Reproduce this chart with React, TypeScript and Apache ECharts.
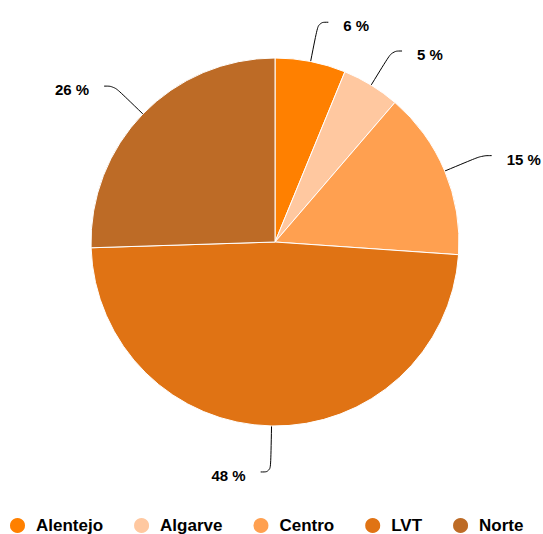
import React, { useEffect, useRef } from "react";
import * as echarts from "echarts";

const categories = ["Alentejo", "Algarve", "Centro", "LVT", "Norte"];
const values = [6.2, 5.1, 14.8, 48.4, 25.5];
const colors = ["#FF8000", "#FFC8A0", "#FFA050", "#E07314", "#BD6B26"];

export default function App() {
  const ref = useRef<HTMLDivElement>(null);
  useEffect(() => {
    document.body.style.margin = "0";
    if (!ref.current) return;
    const chart = echarts.init(ref.current, null, { renderer: "svg" });
    const font = "Liberation Sans, Arial, sans-serif";
    chart.setOption({
      animation: false,
      color: colors,
      legend: {
        type: "plain",
        orient: "horizontal",
        left: 8,
        top: 516,
        width: 900,
        icon: "circle",
        itemWidth: 17,
        itemHeight: 17,
        itemGap: 29,
        padding: 0,
        textStyle: {
          fontFamily: font,
          fontSize: 17,
          fontWeight: "bold",
          color: "#000",
          padding: [0, 0, 0, 5],
        },
        data: categories,
      },
      series: [
        {
          type: "pie",
          center: [275, 242],
          radius: 184,
          startAngle: 90,
          clockwise: true,
          percentPrecision: 0,
          avoidLabelOverlap: false,
          itemStyle: { borderColor: "#fff", borderWidth: 1 },
          label: {
            show: true,
            position: "outside",
            formatter: "{t|{d} %}",
            distanceToLabelLine: 15,
            rich: {
              t: {
                fontFamily: font,
                fontSize: 15,
                fontWeight: "bold",
                color: "#000",
                padding: [7, 0, 0, 0],
              },
            },
          },
          labelLine: {
            show: true,
            length: 40,
            length2: 10,
            smooth: 0.4,
            lineStyle: { color: "#000", width: 1 },
          },
          emphasis: { disabled: true },
          data: categories.map((c, i) => ({
            name: c,
            value: values[i],
            labelLine: c === "LVT" ? { length: 46 } : undefined,
          })),
        },
      ],
    });
    return () => chart.dispose();
  }, []);
  return <div ref={ref} style={{ width: 543, height: 534 }} />;
}
